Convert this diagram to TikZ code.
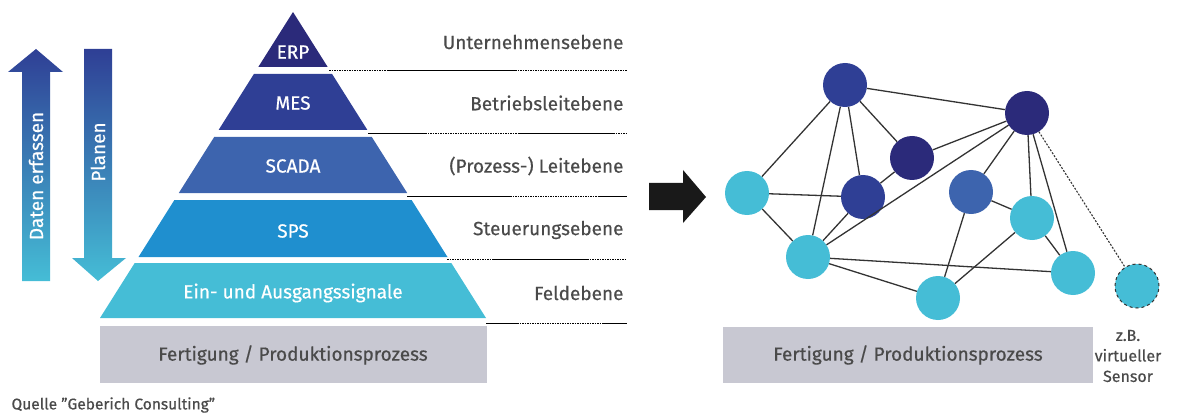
\documentclass[tikz,border=0pt]{standalone}
\usepackage{fontspec}
\setmainfont{Fira Sans}[FakeBold=0.5]
\usetikzlibrary{positioning}
\definecolor{erpColor}{HTML}{2B2A7A}
\definecolor{mesColor}{HTML}{2F3F95}
\definecolor{scadaColor}{HTML}{3D64AE}
\definecolor{spsColor}{HTML}{1F8FCF}
\definecolor{feldColor}{HTML}{45BDD6}
\definecolor{baseColor}{HTML}{C8C8D2}
\definecolor{textColor}{HTML}{4A4A4A}
\definecolor{edgeColor}{HTML}{333333}

\begin{document}
\begin{tikzpicture}[x=1pt,y=-1pt]

          \tikzstyle{layerText} = [white, font=\fontsize{19}{20}\selectfont];
          \tikzstyle{levelText} = [textColor, anchor=east, font=\fontsize{19}{20}\selectfont];
          \tikzstyle{baseText} = [textColor, font=\fontsize{19}{20}\selectfont];
          \tikzstyle{solidSep} = [line width=1pt];
          \tikzstyle{dotSep} = [line width=1pt, dash pattern=on 1.5pt off 1pt];

          \tikzstyle{normalNode} = [circle, minimum size=44pt, inner sep=0pt];
          \tikzstyle{darkNode} = [normalNode, fill=erpColor];
          \tikzstyle{navyNode} = [normalNode, fill=mesColor];
          \tikzstyle{blueNode} = [normalNode, fill=scadaColor];
          \tikzstyle{cyanNode} = [normalNode, fill=feldColor];
          \tikzstyle{virtualNode} = [normalNode, fill=feldColor, draw=edgeColor, dashed, line width=1pt];

          \tikzstyle{normalEdge} = [edgeColor, line width=1.3pt];
          \tikzstyle{virtualEdge} = [edgeColor, line width=1.1pt, dash pattern=on 2pt off 1.5pt];

          \useasboundingbox (0,0) rectangle (1190,414);

          % left arrows
          \shade[top color=mesColor, bottom color=feldColor]
            (22,281) -- (22,72) -- (8,72) -- (36,49) -- (63,72) -- (50,72) -- (50,281) -- cycle;
          \shade[top color=mesColor, bottom color=feldColor]
            (84,49) -- (112,49) -- (112,258) -- (126,258) -- (98,281) -- (72,258) -- (84,258) -- cycle;
          \node[layerText, rotate=90] (erfassen) at (36,176) {Daten erfassen};
          \node[layerText, rotate=90] (planen) at (98,152) {Planen};

          % pyramid
          \fill[erpColor] (293,12) -- (327.7,67) -- (258.3,67) -- cycle;
          \fill[mesColor] (253.9,74) -- (332.1,74) -- (367.4,130) -- (218.6,130) -- cycle;
          \fill[scadaColor] (214.2,137) -- (371.8,137) -- (407.2,193) -- (178.8,193) -- cycle;
          \fill[spsColor] (174.4,200) -- (411.6,200) -- (447.5,257) -- (138.5,257) -- cycle;
          \fill[feldColor] (134.7,263) -- (451.3,263) -- (486,318) -- (100,318) -- cycle;
          \fill[baseColor] (100,326) rectangle (487,383);

          \node[layerText] (erp) at (293,52) {ERP};
          \node[layerText] (mes) at (293,103) {MES};
          \node[layerText] (scada) at (293,166) {SCADA};
          \node[layerText] (sps) at (293,231) {SPS};
          \node[layerText] (feld) at (293,293) {Ein- und Ausgangssignale};
          \node[baseText] (fertigung) at (293,355) {Fertigung / Produktionsprozess};

          % levels
          \node[levelText] (unternehmen) at (627,42) {Unternehmensebene};
          \node[levelText] (betrieb) at (627,103) {Betriebsleitebene};
          \node[levelText] (leit) at (627,166) {(Prozess-) Leitebene};
          \node[levelText] (steuerung) at (627,230) {Steuerungsebene};
          \node[levelText] (feldebene) at (627,293) {Feldebene};

          \draw[dotSep] (329,71) -- (388,71);
          \draw[solidSep] (388,71) -- (515,71);
          \draw[dotSep] (515,71) -- (627,71);
          \draw[solidSep] (368,134) -- (425,134);
          \draw[dotSep] (425,134) -- (518,134);
          \draw[solidSep] (518,134) -- (613,134);
          \draw[dotSep] (613,134) -- (627,134);
          \draw[solidSep] (407,196) -- (510,196);
          \draw[dotSep] (510,196) -- (598,196);
          \draw[solidSep] (598,196) -- (627,196);
          \draw[dotSep] (447,259) -- (493,259);
          \draw[solidSep] (493,259) -- (587,259);
          \draw[dotSep] (587,259) -- (627,259);
          \draw[solidSep] (486,323) -- (517,323);
          \draw[dotSep] (517,323) -- (602,323);
          \draw[solidSep] (602,323) -- (627,323);

          \node[textColor, anchor=west, font=\fontsize{15.5}{16}\selectfont] (quelle) at (8,405) {Quelle \symbol{34}Geberich Consulting\symbol{34}};

          % big arrow
          \fill[black!90] (649,183) -- (683,183) -- (683,170) -- (706,197) -- (683,223) -- (683,210) -- (649,210) -- cycle;

          % network
          \node[navyNode] (n1) at (845,85) {};
          \node[darkNode] (n2) at (1027,113) {};
          \node[darkNode] (n3) at (912,158) {};
          \node[navyNode] (n4) at (863,197) {};
          \node[blueNode] (n5) at (971,192) {};
          \node[cyanNode] (c1) at (747,193) {};
          \node[cyanNode] (c2) at (808,257) {};
          \node[cyanNode] (c3) at (938,298) {};
          \node[cyanNode] (c4) at (1032,218) {};
          \node[cyanNode] (c5) at (1073,273) {};
          \node[virtualNode] (v) at (1137,286) {};

          \draw[normalEdge] (n1) -- (n2);
          \draw[normalEdge] (n1) -- (c1);
          \draw[normalEdge] (n1) -- (c2);
          \draw[normalEdge] (n1) -- (n4);
          \draw[normalEdge] (n1) -- (n3);
          \draw[normalEdge] (n3) -- (n4);
          \draw[normalEdge] (n3) -- (n2);
          \draw[normalEdge] (n2) -- (c2);
          \draw[normalEdge] (n2) -- (n5);
          \draw[normalEdge] (n2) -- (c4);
          \draw[normalEdge] (n2) -- (c5);
          \draw[virtualEdge] (n2) -- (v);
          \draw[normalEdge] (c1) -- (n4);
          \draw[normalEdge] (c1) -- (c2);
          \draw[normalEdge] (c2) -- (n4);
          \draw[normalEdge] (c2) -- (c5);
          \draw[normalEdge] (c2) -- (c3);
          \draw[normalEdge] (n5) -- (c3);
          \draw[normalEdge] (n5) -- (c4);
          \draw[normalEdge] (c4) -- (c3);
          \draw[normalEdge] (c4) -- (c5);

          \fill[baseColor] (723,327) rectangle (1093,383);
          \node[baseText] (prozess) at (908,355) {Fertigung / Produktionsprozess};
          \node[textColor, align=center, font=\fontsize{16}{20.5}\selectfont] (sensor) at (1128,356) {z.B.\\virtueller\\Sensor};
        \end{tikzpicture}
\end{document}
